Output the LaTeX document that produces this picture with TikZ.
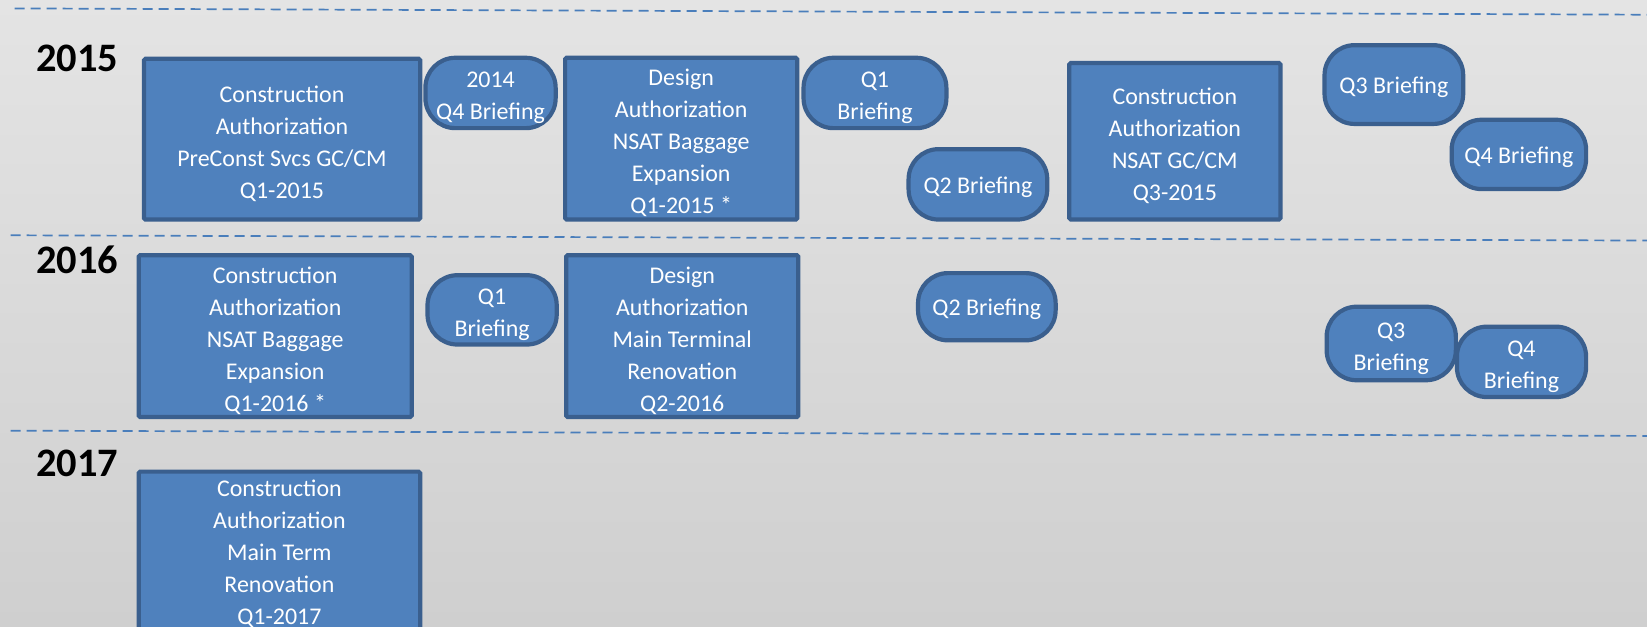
\documentclass[tikz,border=0pt]{standalone}
\usepackage{fontspec}
\setmainfont{Carlito}
\definecolor{boxfill}{HTML}{4F81BD}
\definecolor{boxline}{HTML}{3A5F8E}
\definecolor{dashblue}{HTML}{4A7EBB}
\definecolor{bgtop}{HTML}{E4E4E4}
\definecolor{bgbot}{HTML}{CFCFCF}
\newcommand{\firststrut}{\rule{0pt}{24pt}}
\begin{document}
\begin{tikzpicture}[x=1pt,y=-1pt,scale=1.0504,transform shape,
  every node/.style={inner sep=0pt, outer sep=0pt},
  boxtext/.style={text=white, align=center,
    font=\fontsize{22.8}{30.5}\selectfont},
  onetext/.style={boxtext, execute at begin node={\rule{0pt}{20.5pt}}},
  sq/.style={draw=boxline, fill=boxfill, line width=4.2pt, rounded corners=1.5pt, boxtext},
  pill/.style={draw=boxline, fill=boxfill, line width=4.2pt, rounded corners=30pt, boxtext},
  pillone/.style={pill, onetext},
  yearlbl/.style={font=\bfseries\fontsize{38.5}{40}\selectfont, text=black},
  sep/.style={draw=dashblue, line width=1.7pt, dash pattern=on 10pt off 6pt}]
\useasboundingbox (0,0) rectangle (1568,596);
\clip (0,0) rectangle (1568,596);
\shade[top color=bgtop, bottom color=bgbot] (0,0) rectangle (1568,596);
% separators
\draw[sep] (14,8) -- (1568,14);
\draw[sep] (10,224) -- (1568,229);
\draw[sep] (10,410) -- (1568,415);
% year labels
\node[yearlbl] (y15) at (73.5,56) {2015};
\node[yearlbl] (y16) at (73.5,247) {2016};
\node[yearlbl] (y17) at (73.5,441) {2017};
% 2015
\node[sq, minimum width=263, minimum height=153] (a) at (268.5,132.5)
  {\firststrut Construction\\Authorization\\PreConst Svcs GC/CM\\Q1-2015};
\node[pill, minimum width=124, minimum height=67] (b) at (467,88.5)
  {\firststrut 2014\\Q4 Briefing};
\node[sq, minimum width=221, minimum height=154] (c) at (648.5,132)
  {\firststrut Design\\Authorization\\NSAT Baggage\\Expansion\\Q1-2015 *};
\node[pill, minimum width=136, minimum height=67] (d) at (833,88.5)
  {\firststrut Q1\\Briefing};
\node[pillone, minimum width=132, minimum height=67] (e) at (931,175.5)
  {Q2 Briefing};
\node[sq, minimum width=201, minimum height=149] (f) at (1118.5,134.5)
  {\firststrut Construction\\Authorization\\NSAT GC/CM\\Q3-2015};
\node[pillone, minimum width=132, minimum height=75] (g) at (1327,80.5)
  {Q3 Briefing};
\node[pillone, minimum width=128, minimum height=66] (h) at (1446,147)
  {Q4 Briefing};
% 2016
\node[sq, minimum width=260, minimum height=154] (i) at (262,320)
  {\firststrut Construction\\Authorization\\NSAT Baggage\\Expansion\\Q1-2016 *};
\node[pill, minimum width=123, minimum height=66] (j) at (468.5,295)
  {\firststrut Q1\\Briefing};
\node[sq, minimum width=221, minimum height=154] (k) at (649.5,320)
  {\firststrut Design\\Authorization\\Main Terminal\\Renovation\\Q2-2016};
\node[pillone, minimum width=131, minimum height=64] (l) at (939.5,292)
  {Q2 Briefing};
\node[pill, minimum width=123, minimum height=70] (m) at (1324.5,327)
  {\firststrut Q3\\Briefing};
\node[pill, minimum width=123, minimum height=67] (n) at (1448.5,344.5)
  {\firststrut Q4\\Briefing};
% 2017
\node[sq, minimum width=268, minimum height=200, anchor=north] (o) at (266,449) {};
\node[boxtext] (ot) at (266,523)
  {\firststrut Construction\\Authorization\\Main Term\\Renovation\\Q1-2017};
\end{tikzpicture}
\end{document}
